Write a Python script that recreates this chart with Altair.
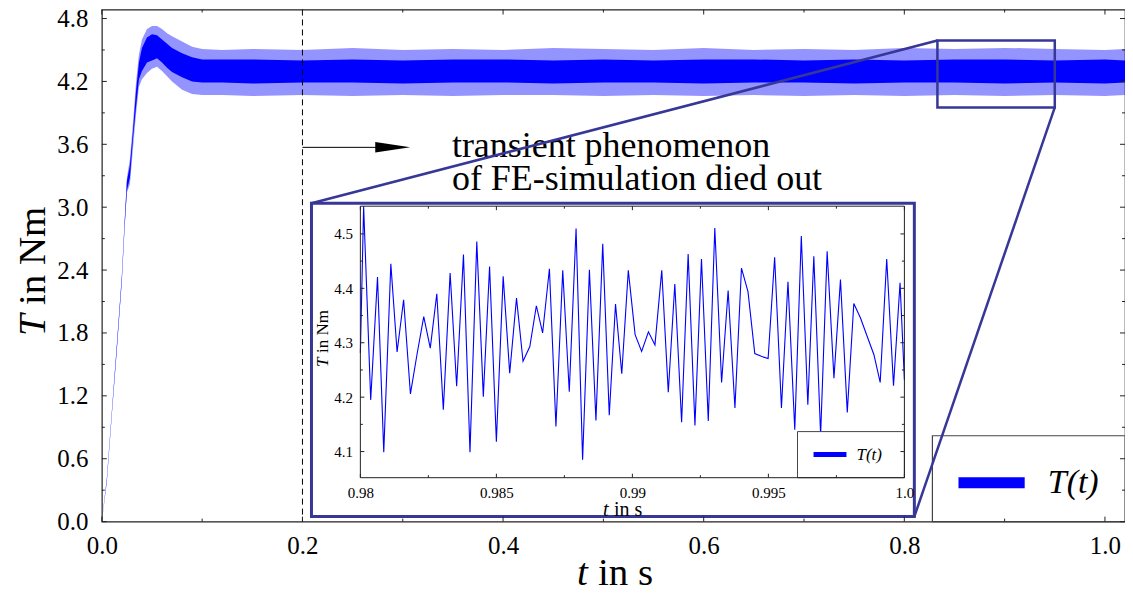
import altair as alt
import pandas as pd

# ---------------- data ----------------
# main curve: envelope of the fast oscillation (outer = spike tips, core = dense part)
env_t = [0, 0.005, 0.01, 0.015, 0.02, 0.0225, 0.025, 0.028, 0.031, 0.034, 0.037, 0.040,
         0.045, 0.050, 0.055, 0.060, 0.065, 0.070, 0.080, 0.090, 0.100, 0.12, 0.15, 0.20,
         0.25, 0.30, 0.35, 0.40, 0.45, 0.50, 0.55, 0.60, 0.65, 0.70, 0.75, 0.80, 0.85, 0.90,
         0.95, 1.00, 1.02]
outer_hi = [0, 0.42, 1.06, 1.70, 2.36, 2.84, 3.28, 3.46, 3.80, 4.18, 4.46, 4.60, 4.70, 4.73,
            4.73, 4.70, 4.66, 4.63, 4.58, 4.53, 4.51, 4.50, 4.51, 4.50, 4.52, 4.50, 4.51,
            4.50, 4.52, 4.51, 4.50, 4.52, 4.50, 4.51, 4.50, 4.52, 4.51, 4.52, 4.51, 4.50, 4.51]
outer_lo = [0, 0.38, 1.02, 1.64, 2.30, 2.76, 3.14, 3.22, 3.55, 3.88, 4.15, 4.22, 4.28, 4.32,
            4.34, 4.30, 4.25, 4.20, 4.12, 4.08, 4.07, 4.07, 4.06, 4.07, 4.06, 4.07, 4.06,
            4.07, 4.07, 4.06, 4.07, 4.06, 4.07, 4.06, 4.07, 4.06, 4.07, 4.06, 4.07, 4.06, 4.07]
core_hi = [0, 0.41, 1.05, 1.69, 2.35, 2.82, 3.25, 3.40, 3.72, 4.10, 4.38, 4.52, 4.62, 4.65,
           4.64, 4.60, 4.56, 4.52, 4.47, 4.43, 4.41, 4.41, 4.41, 4.40, 4.41, 4.40, 4.41,
           4.41, 4.40, 4.41, 4.40, 4.41, 4.41, 4.40, 4.41, 4.40, 4.41, 4.41, 4.40, 4.41, 4.40]
core_lo = [0, 0.39, 1.03, 1.65, 2.31, 2.78, 3.16, 3.28, 3.65, 3.95, 4.22, 4.30, 4.38, 4.40,
           4.42, 4.38, 4.33, 4.29, 4.24, 4.20, 4.19, 4.19, 4.18, 4.19, 4.19, 4.18, 4.19,
           4.19, 4.18, 4.19, 4.19, 4.18, 4.19, 4.19, 4.18, 4.19, 4.19, 4.18, 4.19, 4.18, 4.19]

# inset: T(t) for 0.98 <= t <= 1.0
ins_t = [0.98, 0.98012, 0.98038, 0.98063, 0.98086, 0.98112, 0.98135, 0.98159, 0.98184,
         0.98208, 0.98233, 0.98257, 0.98281, 0.98305, 0.9833, 0.98354, 0.98379, 0.98403,
         0.98428, 0.98452, 0.98475, 0.985, 0.98525, 0.98549, 0.98574, 0.98598, 0.98623,
         0.98647, 0.9867, 0.98695, 0.98719, 0.98744, 0.98768, 0.98793, 0.98817, 0.98842,
         0.98866, 0.98891, 0.98915, 0.98938,
         0.98961, 0.98985, 0.9901, 0.99034, 0.99059, 0.99083, 0.99108, 0.99132, 0.99156,
         0.99181, 0.99205, 0.9923, 0.99254, 0.99279, 0.99303, 0.99328, 0.99352, 0.99377,
         0.99401, 0.99425, 0.9945, 0.99474, 0.99499, 0.99523, 0.99548, 0.99572, 0.99597,
         0.99621, 0.99645, 0.99667, 0.99692, 0.99716, 0.99741, 0.99765, 0.9979, 0.99814,
         0.99839, 0.99863, 0.99888, 0.99911, 0.99935, 0.9996, 0.99984, 1.0]
ins_T = [4.281, 4.551, 4.195, 4.421, 4.099, 4.445, 4.283, 4.379, 4.206, 4.278, 4.348, 4.290,
         4.390, 4.177, 4.428, 4.220, 4.462, 4.099, 4.486, 4.201, 4.440, 4.118, 4.422, 4.244,
         4.382, 4.266, 4.293, 4.368, 4.318, 4.436, 4.146, 4.433, 4.210, 4.510, 4.085, 4.434,
         4.157, 4.482, 4.167, 4.371,
         4.243, 4.433, 4.315, 4.284, 4.320, 4.296, 4.433, 4.209, 4.408, 4.154, 4.463, 4.148,
         4.454, 4.156, 4.511, 4.227, 4.396, 4.180, 4.437, 4.394, 4.280, 4.275, 4.271, 4.457,
         4.180, 4.412, 4.140, 4.496, 4.186, 4.459, 4.130, 4.468, 4.235, 4.416, 4.172, 4.372,
         4.345, 4.312, 4.278, 4.227, 4.454, 4.221, 4.410, 4.232]

# tick values
x_major = [0.0, 0.2, 0.4, 0.6, 0.8, 1.0]
x_minor = [0.1, 0.3, 0.5, 0.7, 0.9]
y_major = [0.0, 0.6, 1.2, 1.8, 2.4, 3.0, 3.6, 4.2, 4.8]
y_minor = [0.3, 0.9, 1.5, 2.1, 2.7, 3.3, 3.9, 4.5]
xi_major = [0.98, 0.985, 0.99, 0.995, 1.0]
xi_minor = [0.9825, 0.9875, 0.9925, 0.9975]
yi_major = [4.1, 4.2, 4.3, 4.4, 4.5]
yi_minor = [4.15, 4.25, 4.35, 4.45]

# annotations (main data coordinates)
steady_t = [0.2]
arrow_t, arrow_t2, arrow_T = [0.2], [0.29], [3.571]
note_lines = ["transient phenomenon", "of FE-simulation died out"]
note_t = [0.349, 0.349]
note_T = [3.476, 3.162]
zoom_box = dict(t1=[0.833], t2=[0.950], T1=[3.952], T2=[4.590])
inset_frame = dict(t1=[0.209], t2=[0.810], T1=[0.048], T2=[3.038])
conn = dict(t1=[0.833, 0.950], T1=[4.590, 3.952], t2=[0.209, 0.810], T2=[3.038, 0.048])
leg_box = dict(t1=[0.828], t2=[1.02], T1=[0.0], T2=[0.819])
leg_line = dict(t1=[0.854], t2=[0.920], T=[0.371])
leg_text = dict(t=[0.943], T=[0.371], s=["T(t)"])
# inset legend (inset coordinates)
ileg_box = dict(t1=[0.99607], t2=[1.0], T1=[4.052], T2=[4.1367])
ileg_line = dict(t1=[0.99666], t2=[0.99787], T=[4.0945])
ileg_text = dict(t=[0.99824], T=[4.0945], s=["T(t)"])

# ---------------- layout / style ----------------
W, H = 1025, 513
XMAX, YMAX = 1.02, 4.886
BLUE = "#0000ff"
FRAME = "#373797"
FONT = "Liberation Serif"
SPINE = "#222222"

# inset plot area in pixels (relative to the main plot area)
IX0, IX1 = 259, 804
IY0, IY1 = 469, 197

sx = alt.Scale(domain=[0, XMAX], nice=False, zero=False)
sy = alt.Scale(domain=[0, YMAX], nice=False, zero=False)
ax_x = alt.Axis(values=x_major, format=".1f", title=None, ticks=False, domain=False, grid=False,
                labelFont=FONT, labelFontSize=25, labelPadding=12, labelFlush=False,
                labelOverlap=False, labelColor="black")
ax_y = alt.Axis(values=y_major, format=".1f", title=None, ticks=False, domain=False, grid=False,
                labelFont=FONT, labelFontSize=25, labelPadding=14, labelFlush=False,
                labelOverlap=False, labelColor="black")


def X(f):
    return alt.X(f + ":Q", scale=sx, axis=ax_x)


def Y(f):
    return alt.Y(f + ":Q", scale=sy, axis=ax_y)


sxi = alt.Scale(domain=[0.98, 1.0], range=[IX0, IX1], nice=False, zero=False)
syi = alt.Scale(domain=[4.052, 4.551], range=[IY0, IY1], nice=False, zero=False)
axi_x = alt.Axis(values=xi_major, labelExpr="datum.value == 1 ? '1.0' : format(datum.value, '~g')",
                 orient="bottom", offset=-(H - IY0), title=None, ticks=False, domain=False,
                 grid=False, labelFont=FONT, labelFontSize=15, labelPadding=8, labelFlush=False,
                 labelOverlap=False, labelColor="black", zindex=2)
axi_y = alt.Axis(values=yi_major, format=".1f", orient="left", offset=-IX0, title=None,
                 ticks=False, domain=False, grid=False, labelFont=FONT, labelFontSize=15,
                 labelPadding=8, labelFlush=False, labelOverlap=False, labelColor="black",
                 zindex=2)


def XI(f):
    return alt.X(f + ":Q", scale=sxi, axis=axi_x)


def YI(f):
    return alt.Y(f + ":Q", scale=syi, axis=axi_y)


env = pd.DataFrame({"t": env_t, "ohi": outer_hi, "olo": outer_lo, "chi": core_hi, "clo": core_lo})

outer = alt.Chart(env).mark_area(color=BLUE, opacity=0.42).encode(x=X("t"), y=Y("olo"), y2="ohi")
core = alt.Chart(env).mark_area(color=BLUE, opacity=1.0).encode(x=X("t"), y=Y("clo"), y2="chi")

dashed = alt.Chart(pd.DataFrame({"t": steady_t})).mark_rule(
    color="black", strokeWidth=1, strokeDash=[6, 4]).encode(x=X("t"))

arrow = alt.Chart(pd.DataFrame({"t": arrow_t, "t2": arrow_t2, "T": arrow_T})).mark_rule(
    color="black", strokeWidth=1).encode(x=X("t"), x2="t2", y=Y("T"))
head = alt.Chart(pd.DataFrame({"t": arrow_t2, "T": arrow_T})).mark_point(
    shape="M -1 -0.3 L 1 0 L -1 0.3 Z", size=1225, filled=True, color="black", opacity=1,
    strokeWidth=0).encode(x=X("t"), y=Y("T"))

notes = alt.Chart(pd.DataFrame({"t": note_t, "T": note_T, "s": note_lines})).mark_text(
    font=FONT, fontSize=36, align="left", baseline="alphabetic", color="black").encode(
    x=X("t"), y=Y("T"), text="s:N")

zoomr = alt.Chart(pd.DataFrame(zoom_box)).mark_rect(
    fillOpacity=0, stroke=FRAME, strokeWidth=2.5).encode(x=X("t1"), x2="t2", y=Y("T1"), y2="T2")

frame = alt.Chart(pd.DataFrame(inset_frame)).mark_rect(
    fill="white", stroke=FRAME, strokeWidth=3).encode(x=X("t1"), x2="t2", y=Y("T1"), y2="T2")

lbox = alt.Chart(pd.DataFrame(leg_box)).mark_rect(
    fill="white", stroke="#444444", strokeWidth=1.2).encode(x=X("t1"), x2="t2", y=Y("T1"), y2="T2")

conns = alt.Chart(pd.DataFrame(conn)).mark_rule(color=FRAME, strokeWidth=2.5).encode(
    x=X("t1"), x2="t2", y=Y("T1"), y2="T2")

lline = alt.Chart(pd.DataFrame(leg_line)).mark_rule(color=BLUE, strokeWidth=11).encode(
    x=X("t1"), x2="t2", y=Y("T"))
ltext = alt.Chart(pd.DataFrame(leg_text)).mark_text(
    font=FONT, fontSize=34, fontStyle="italic", align="left", baseline="middle",
    color="black").encode(x=X("t"), y=Y("T"), text="s:N")


def tick_rules(vals, axis, length, side):
    df = pd.DataFrame({"v": vals})
    base = alt.Chart(df).mark_rule(color=SPINE, strokeWidth=1)
    if axis == "x":
        if side == "bottom":
            return base.encode(x=X("v"), y=alt.value(H), y2=alt.value(H - length))
        return base.encode(x=X("v"), y=alt.value(0), y2=alt.value(length))
    if side == "left":
        return base.encode(y=Y("v"), x=alt.value(0), x2=alt.value(length))
    return base.encode(y=Y("v"), x=alt.value(W), x2=alt.value(W - length))


main_ticks = [
    tick_rules(x_major, "x", 5, "bottom"), tick_rules(x_major, "x", 5, "top"),
    tick_rules(x_minor, "x", 3, "bottom"), tick_rules(x_minor, "x", 3, "top"),
    tick_rules(y_major, "y", 5, "left"), tick_rules(y_major, "y", 5, "right"),
    tick_rules(y_minor, "y", 3, "left"), tick_rules(y_minor, "y", 3, "right"),
]

# axis titles (italic variable + upright unit)
xt_parts = ["t", "in s"]
yt_parts = ["T", "in Nm"]


def label(text, x, y, size, italic=False, angle=0, align="left", baseline="alphabetic"):
    kw = dict(font=FONT, fontSize=size, align=align, baseline=baseline, color="black")
    if italic:
        kw["fontStyle"] = "italic"
    if angle:
        kw["angle"] = angle
    return alt.Chart(pd.DataFrame({"s": [text]})).mark_text(**kw).encode(
        text="s:N", x=alt.value(x), y=alt.value(y))


titles = [
    label(xt_parts[0], 476, 577, 39, italic=True),
    label(xt_parts[1], 497, 577, 39),
    label(yt_parts[0], -57, 327, 39, italic=True, angle=270),
    label(yt_parts[1], -57, 296, 39, angle=270),
]

main = alt.layer(outer, core, dashed, arrow, head, notes, zoomr, frame, lbox, conns, lline,
                 ltext, *main_ticks, *titles)

# ---------------- inset ----------------
ins = pd.DataFrame({"ti": ins_t, "Ti": ins_T})
iline = alt.Chart(ins).mark_line(color=BLUE, strokeWidth=1.1, clip=True).encode(
    x=XI("ti"), y=YI("Ti"))
ispine = alt.Chart(pd.DataFrame({"a": [0.98], "b": [1.0], "c": [4.052], "d": [4.551]})).mark_rect(
    fillOpacity=0, stroke=SPINE, strokeWidth=1).encode(x=XI("a"), x2="b", y=YI("c"), y2="d")


def itick(vals, axis, length, side):
    df = pd.DataFrame({"v": vals})
    base = alt.Chart(df).mark_rule(color=SPINE, strokeWidth=1)
    if axis == "x":
        if side == "bottom":
            return base.encode(x=XI("v"), y=alt.value(IY0), y2=alt.value(IY0 - length))
        return base.encode(x=XI("v"), y=alt.value(IY1), y2=alt.value(IY1 + length))
    if side == "left":
        return base.encode(y=YI("v"), x=alt.value(IX0), x2=alt.value(IX0 + length))
    return base.encode(y=YI("v"), x=alt.value(IX1), x2=alt.value(IX1 - length))


ins_ticks = [
    itick(xi_major, "x", 4, "bottom"), itick(xi_major, "x", 4, "top"),
    itick(xi_minor, "x", 2.5, "bottom"), itick(xi_minor, "x", 2.5, "top"),
    itick(yi_major, "y", 4, "left"), itick(yi_major, "y", 4, "right"),
    itick(yi_minor, "y", 2.5, "left"), itick(yi_minor, "y", 2.5, "right"),
]

ilbox = alt.Chart(pd.DataFrame(ileg_box)).mark_rect(
    fill="white", stroke="#444444", strokeWidth=1).encode(x=XI("t1"), x2="t2", y=YI("T1"), y2="T2")
illine = alt.Chart(pd.DataFrame(ileg_line)).mark_rule(color=BLUE, strokeWidth=5).encode(
    x=XI("t1"), x2="t2", y=YI("T"))
iltext = alt.Chart(pd.DataFrame(ileg_text)).mark_text(
    font=FONT, fontSize=17, fontStyle="italic", align="left", baseline="middle",
    color="black").encode(x=XI("t"), y=YI("T"), text="s:N")

ititles = [
    label(xt_parts[0], 502, 507, 20, italic=True),
    label(xt_parts[1], 513, 507, 20),
    label(yt_parts[0], 227, 358, 17, italic=True, angle=270),
    label(yt_parts[1], 227, 344, 17, angle=270),
]

inset = alt.layer(iline, ilbox, illine, iltext, ispine, *ins_ticks, *ititles)

chart = alt.layer(main, inset).resolve_scale(x="independent", y="independent").properties(
    width=W, height=H,
    autosize=alt.AutoSizeParams(type="none"),
    padding={"left": 94, "top": 1, "right": 0, "bottom": 78},
).configure_view(stroke=SPINE, strokeWidth=1.2).configure_axis(
    labelFont=FONT, labelColor="black").configure_text(font=FONT)

chart.save("out.html", embed_options={"renderer": "svg", "actions": False})
